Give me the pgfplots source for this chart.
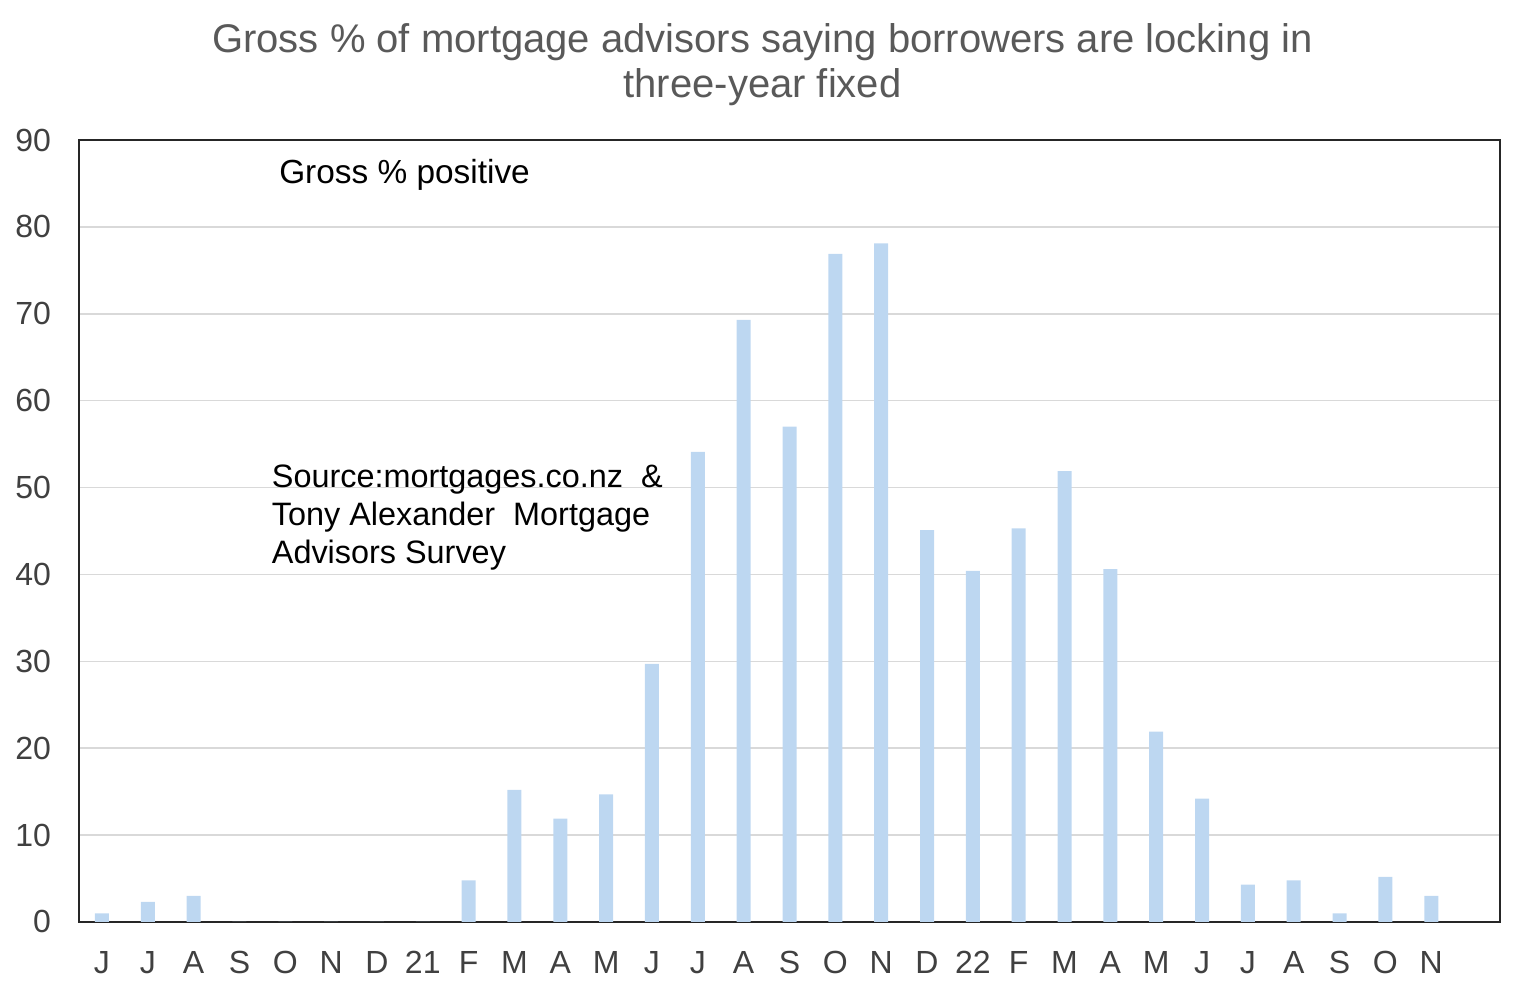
\documentclass[border=0pt]{standalone}
\usepackage{pgfplots}
\pgfplotsset{compat=1.18}
\usepackage{fontspec}
\setmainfont{Liberation Sans}
\definecolor{barblue}{HTML}{BDD7F1}
\definecolor{gridgray}{HTML}{D9D9D9}
\definecolor{ticktext}{HTML}{404040}
\definecolor{titletext}{HTML}{595959}
\pgfplotstableread{
x y
0 1.0
1 2.3
2 3.0
3 0
4 0
5 0
6 0
7 0
8 4.8
9 15.2
10 11.9
11 14.7
12 29.7
13 54.1
14 69.3
15 57.0
16 76.9
17 78.1
18 45.1
19 40.4
20 45.3
21 51.9
22 40.6
23 21.9
24 14.2
25 4.3
26 4.8
27 1.0
28 5.2
29 3.0
}\datatable
\begin{document}
\begin{tikzpicture}
\begin{axis}[
  scale only axis,
  width=710.5pt, height=391pt,
  xmin=-0.5, xmax=30.5,
  ymin=0, ymax=90,
  ytick={0,10,...,90},
  xtick={0,...,29},
  xticklabels={J,J,A,S,O,N,D,21,F,M,A,M,J,J,A,S,O,N,D,22,F,M,A,M,J,J,A,S,O,N},
  major tick length=0pt,
  ymajorgrids,
  grid style={gridgray, line width=0.75pt},
  axis line style={black!85, line width=0.9pt},
  tick label style={font=\fontsize{16}{19}\selectfont, text=ticktext},
  /pgf/number format/assume math mode=true,
  yticklabel style={xshift=-10.5pt},
  xticklabel style={yshift=-11pt},
  clip=false,
  axis on top=false,
]
\addplot[ybar, bar width=7pt, fill=barblue, draw=none] table[x=x,y=y] {\datatable};
\node[anchor=base west, inner sep=0pt, font=\fontsize{16.7}{19}\selectfont, text=black] at (axis cs:3.86,85.0) {Gross \% positive};
\node[anchor=north west, align=left, inner sep=0pt, font=\fontsize{16.2}{19}\selectfont, text=black] at (axis cs:3.7,52.6) {Source:mortgages.co.nz \ \&\\Tony Alexander \ Mortgage\\Advisors Survey};
\end{axis}
\node[anchor=base, align=center, font=\fontsize{20}{22.5}\selectfont, text=titletext] at ([xshift=-13.5pt,yshift=21pt]current axis.north) {Gross \% of mortgage advisors saying borrowers are locking in\\three-year fixed};
\pgfresetboundingbox
\path[use as bounding box] ([xshift=-39.5pt,yshift=-36.5pt]current axis.south west) rectangle ([xshift=12.5pt,yshift=70pt]current axis.north east);
\end{tikzpicture}
\end{document}
